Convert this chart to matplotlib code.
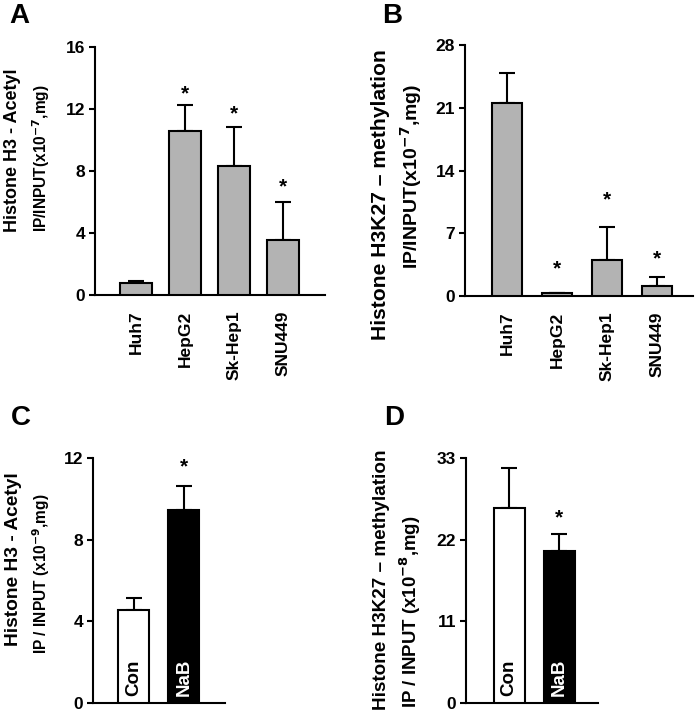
import matplotlib
matplotlib.use("Agg")
import matplotlib.pyplot as plt

plt.rcParams["font.family"] = ["Liberation Sans", "DejaVu Sans"]
plt.rcParams["font.weight"] = "bold"
plt.rcParams["mathtext.default"] = "bf"

W, H = 697, 715

# ─── Dados ────────────────────────────────────────────────────────────────────
cells = ["Huh7", "HepG2", "Sk-Hep1", "SNU449"]
acetyl_cells = [0.77, 10.6, 8.3, 3.55]
acetyl_cells_err = [0.13, 1.65, 2.55, 2.45]
acetyl_cells_star = [None, 12.97, 11.68, 6.99]

methyl_cells = [21.5, 0.3, 4.0, 1.1]
methyl_cells_err = [3.4, 0.0, 3.7, 1.05]
methyl_cells_star = [None, 3.0, 10.7, 4.1]

treat = ["Con", "NaB"]
acetyl_treat = [4.56, 9.44]
acetyl_treat_err = [0.6, 1.18]
acetyl_treat_star = [None, 11.56]

methyl_treat = [26.3, 20.46]
methyl_treat_err = [5.3, 2.34]
methyl_treat_star = [None, 24.86]

GRAY = "#b3b3b3"


def style_axis(ax, ymax, step, xlim):
    ax.spines["top"].set_visible(False)
    ax.spines["right"].set_visible(False)
    ax.spines["left"].set_linewidth(1.5)
    ax.spines["bottom"].set_linewidth(1.5)
    ax.set_ylim(0, ymax)
    ax.set_yticks(range(0, ymax + 1, step))
    ax.set_xlim(*xlim)
    ax.tick_params(axis="y", length=4, width=1.5, labelsize=12.5, pad=3)
    ax.tick_params(axis="x", length=0, labelsize=12.5)
    for lab in ax.get_yticklabels():
        lab.set_fontweight("bold")


def draw_bars(ax, values, errs, stars, colors, width):
    x = list(range(len(values)))
    ax.bar(x, values, width=width, color=colors, edgecolor="black",
           linewidth=1.5, zorder=3)
    ax.errorbar(x, values, yerr=[[0] * len(errs), errs], fmt="none",
                ecolor="black", elinewidth=1.5, capsize=6, capthick=1.5,
                zorder=2)
    for xi, s in zip(x, stars):
        if s is not None:
            ax.text(xi, s, "*", ha="center", va="center", fontsize=15,
                    fontweight="bold")
    return x


def ylabel(lines):
    # cada linha: (texto, x_px, y_px, tamanho)
    for txt, px, py, size in lines:
        fig.text(px / W, 1 - py / H, txt, rotation=90, ha="center",
                 va="center", fontsize=size, fontweight="bold")


fig = plt.figure(figsize=(6.97, 7.15), dpi=100)

# A
axA = fig.add_axes([0.1363, 0.5874, 0.33, 0.3469])
x = draw_bars(axA, acetyl_cells, acetyl_cells_err, acetyl_cells_star,
              [GRAY] * 4, 0.65)
style_axis(axA, 16, 4, (-0.837, 3.857))
axA.set_xticks(x)
axA.set_xticklabels(cells, rotation=90, fontweight="bold")
axA.tick_params(axis="x", pad=11)
ylabel([("Histone H3 - Acetyl", 13, 150, 13),
        ("IP/INPUT(x10$^{-7}$,mg)", 41, 158, 11.2)])

# B
axB = fig.add_axes([0.6671, 0.586, 0.3272, 0.351])
x = draw_bars(axB, methyl_cells, methyl_cells_err, methyl_cells_star,
              [GRAY] * 4, 0.6)
style_axis(axB, 28, 7, (-0.84, 3.72))
axB.set_xticks(x)
axB.set_xticklabels(cells, rotation=90, fontweight="bold")
axB.tick_params(axis="x", pad=11)
ylabel([("Histone H3K27 \u2013 methylation", 381, 195, 15.2),
        ("IP/INPUT(x10$^{-7}$,mg)", 411, 176, 14)])

# C
axC = fig.add_axes([0.1334, 0.01636, 0.1894, 0.3435])
x = draw_bars(axC, acetyl_treat, acetyl_treat_err, acetyl_treat_star,
              ["white", "black"], 0.62)
style_axis(axC, 12, 4, (-0.82, 1.82))
axC.set_xticks([])
ylabel([("Histone H3 - Acetyl", 13.5, 559, 13.8),
        ("IP / INPUT (x10$^{-9}$,mg)", 41, 574, 11.2)])

# D
axD = fig.add_axes([0.6686, 0.01636, 0.1894, 0.3435])
x = draw_bars(axD, methyl_treat, methyl_treat_err, methyl_treat_star,
              ["white", "black"], 0.62)
style_axis(axD, 33, 11, (-0.86, 1.78))
axD.set_xticks([])
ylabel([("Histone H3K27 \u2013 methylation", 381, 580, 13.6),
        ("IP / INPUT (x10$^{-8}$,mg)", 410, 612, 13.4)])

# rótulos dentro das barras
for ax in (axC, axD):
    for xi, name, col in zip(range(2), treat, ["black", "white"]):
        ax.annotate(name, (xi, 0), xytext=(0, 5), textcoords="offset points",
                    rotation=90, ha="center", va="bottom", fontsize=13.5,
                    fontweight="bold", color=col, zorder=4)

# letras dos painéis
for label, (px, py) in zip("ABCD", [(9, 3), (382, 3), (11, 405), (384, 405)]):
    fig.text(px / W, 1 - py / H, label, fontsize=20, fontweight="bold",
             ha="left", va="top")

fig.savefig("out.png", dpi=100)
